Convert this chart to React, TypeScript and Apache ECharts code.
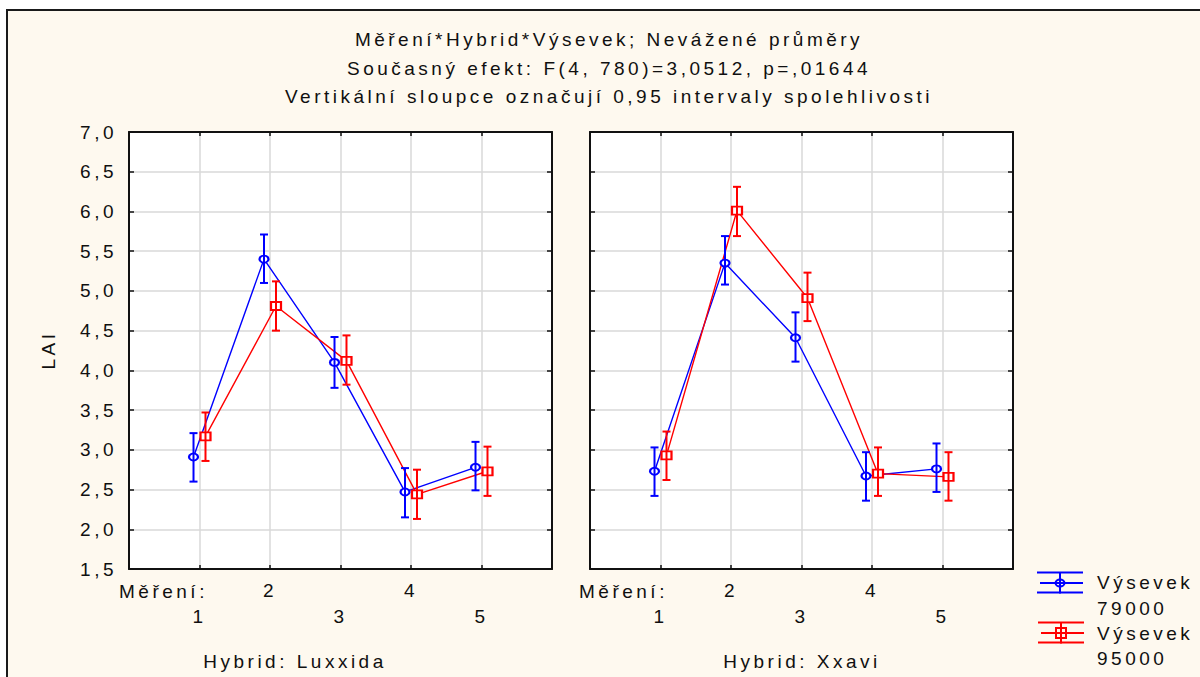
import React, { useEffect, useRef } from "react";
import * as echarts from "echarts";

// ---- data ----
const measurements = [1, 2, 3, 4, 5];

const luxxida79000Mean = [2.91, 5.4, 4.1, 2.47, 2.78];
const luxxida79000Low = [2.6, 5.1, 3.78, 2.15, 2.49];
const luxxida79000High = [3.21, 5.71, 4.42, 2.77, 3.1];

const luxxida95000Mean = [3.17, 4.81, 4.12, 2.44, 2.73];
const luxxida95000Low = [2.86, 4.5, 3.82, 2.13, 2.42];
const luxxida95000High = [3.47, 5.12, 4.44, 2.75, 3.04];

const xxavi79000Mean = [2.73, 5.35, 4.41, 2.67, 2.76];
const xxavi79000Low = [2.42, 5.08, 4.11, 2.36, 2.47];
const xxavi79000High = [3.03, 5.69, 4.73, 2.97, 3.08];

const xxavi95000Mean = [2.93, 6.01, 4.91, 2.7, 2.66];
const xxavi95000Low = [2.62, 5.69, 4.62, 2.42, 2.36];
const xxavi95000High = [3.23, 6.31, 5.23, 3.03, 2.97];

const titleLines = [
  "Měření*Hybrid*Výsevek; Nevážené průměry",
  "Současný efekt: F(4, 780)=3,0512, p=,01644",
  "Vertikální sloupce označují 0,95 intervaly spolehlivosti",
];
const hybridNames = ["Hybrid: Luxxida", "Hybrid: Xxavi"];
const seriesNames = ["Výsevek 79000", "Výsevek 95000"];
const legendLines = [
  ["Výsevek", "79000"],
  ["Výsevek", "95000"],
];
const xAxisTitle = "Měření:";
const yAxisTitle = "LAI";

// ---- styling ----
const FONT = '"Liberation Sans", Arial, sans-serif';
const FS = 19;
const TXT = "#101010";
const BLUE = "#0000ff";
const RED = "#ff0000";
const CREAM = "#fef9ef";
const SHIFT = 0.085;

const points = (means: number[], shift: number) =>
  measurements.map((m, i) => [m + shift, means[i]]);
const bars = (lo: number[], hi: number[], shift: number) =>
  measurements.map((m, i) => [m + shift, lo[i], hi[i]]);

const errorRenderer = (color: string) => (params: any, api: any) => {
  const x = api.value(0);
  const top = api.coord([x, api.value(2)]);
  const bot = api.coord([x, api.value(1)]);
  const hw = 4;
  const style = { stroke: color, lineWidth: 2 };
  return {
    type: "group",
    children: [
      { type: "line", shape: { x1: top[0], y1: top[1], x2: bot[0], y2: bot[1] }, style },
      { type: "line", shape: { x1: top[0] - hw, y1: top[1], x2: top[0] + hw, y2: top[1] }, style },
      { type: "line", shape: { x1: bot[0] - hw, y1: bot[1], x2: bot[0] + hw, y2: bot[1] }, style },
    ],
  };
};

const yFmt = (v: number) => v.toFixed(1).replace(".", ",");
const xFmt = (v: number) => {
  if (v === 2 || v === 4) return String(v);
  if (v === 1 || v === 3 || v === 5) return "\n" + v;
  return "";
};

const axisLineStyle = { show: true, onZero: false, lineStyle: { color: "#111", width: 2 } };
const tickStyle = (len: number) => ({
  show: true,
  inside: true,
  length: len,
  lineStyle: { color: "#111", width: 1.5 },
});
const splitStyle = { show: true, lineStyle: { color: "#d8d8d8", width: 1.5 } };

function bottomX(g: number) {
  return {
    type: "value",
    gridIndex: g,
    position: "bottom",
    min: 0,
    max: 6,
    interval: 1,
    axisLine: axisLineStyle,
    axisTick: tickStyle(4),
    splitLine: splitStyle,
    axisLabel: {
      show: true,
      margin: 8,
      formatter: xFmt,
      fontSize: FS,
      lineHeight: 26,
      color: TXT,
      fontFamily: FONT,
    },
  };
}
function topX(g: number) {
  return {
    type: "value",
    gridIndex: g,
    position: "top",
    min: 0,
    max: 6,
    interval: 1,
    axisLine: axisLineStyle,
    axisTick: tickStyle(4),
    splitLine: { show: false },
    axisLabel: { show: false },
  };
}
function yAx(g: number, pos: string, labels: boolean, split: boolean) {
  return {
    type: "value",
    gridIndex: g,
    position: pos,
    min: 1.5,
    max: 7,
    interval: 0.5,
    axisLine: axisLineStyle,
    axisTick: tickStyle(5),
    splitLine: split ? splitStyle : { show: false },
    axisLabel: labels
      ? { show: true, margin: 12, formatter: yFmt, fontSize: FS, color: TXT, fontFamily: FONT }
      : { show: false },
  };
}

function lineSeries(name: string, g: number, data: number[][], color: string, symbol: string, size: number[]) {
  return {
    type: "line",
    name,
    xAxisIndex: g,
    yAxisIndex: g,
    data,
    symbol,
    symbolSize: size,
    lineStyle: { color, width: 1.4 },
    itemStyle: { color, borderColor: color, borderWidth: 1.6 },
    z: 3,
  };
}
function errSeries(name: string, g: number, data: number[][], color: string) {
  return {
    type: "custom",
    name,
    xAxisIndex: g,
    yAxisIndex: g,
    data,
    renderItem: errorRenderer(color),
    encode: { x: 0, y: [1, 2] },
    z: 4,
  };
}

function legendIcon(cx: number, cy: number, color: string, square: boolean) {
  const s = { stroke: color, lineWidth: 2 };
  const els: any[] = [
    { type: "line", shape: { x1: cx - 23, y1: cy - 10.5, x2: cx + 23, y2: cy - 10.5 }, style: s, z: 10 },
    { type: "line", shape: { x1: cx - 20, y1: cy, x2: cx + 23, y2: cy }, style: s, z: 10 },
    { type: "line", shape: { x1: cx - 23, y1: cy + 9.5, x2: cx + 23, y2: cy + 9.5 }, style: s, z: 10 },
    { type: "line", shape: { x1: cx, y1: cy - 10.5, x2: cx, y2: cy + 10.5 }, style: s, z: 10 },
  ];
  if (square) {
    els.push({ type: "rect", shape: { x: cx - 5, y: cy - 5, width: 10, height: 10 }, style: { stroke: color, fill: "none", lineWidth: 2 }, z: 11 });
  } else {
    els.push({ type: "ellipse", shape: { cx, cy, rx: 4.5, ry: 3.5 }, style: { stroke: color, fill: "none", lineWidth: 2 }, z: 11 });
  }
  return els;
}

const txt = (text: string, x: number, y: number, align: string, extra: any = {}) => ({
  type: "text",
  x,
  y,
  z: 10,
  style: {
    text,
    x: 0,
    y: 0,
    fill: TXT,
    font: `${FS}px ${FONT}`,
    textAlign: align,
    textVerticalAlign: "middle",
    ...extra,
  },
});

export default function App() {
  const ref = useRef<HTMLDivElement>(null);
  useEffect(() => {
    if (!ref.current) return;
    const chart = echarts.init(ref.current, undefined, { renderer: "svg" });
    const option: any = {
      animation: false,
      backgroundColor: "#ffffff",
      title: titleLines.map((t, i) => ({
        text: t,
        left: 609,
        top: 30 + i * 28.5,
        textAlign: "center",
        padding: 0,
        textStyle: { fontSize: FS, fontWeight: "normal", color: TXT, fontFamily: FONT },
      })),
      grid: [
        { left: 129, top: 132, width: 423, height: 437, show: true, backgroundColor: "#ffffff", borderWidth: 0 },
        { left: 590, top: 132, width: 423, height: 437, show: true, backgroundColor: "#ffffff", borderWidth: 0 },
      ],
      xAxis: [bottomX(0), bottomX(1), topX(0), topX(1)],
      yAxis: [yAx(0, "left", true, true), yAx(1, "left", false, true), yAx(0, "right", false, false), yAx(1, "right", false, false)],
      series: [
        lineSeries(seriesNames[0], 0, points(luxxida79000Mean, -SHIFT), BLUE, "emptyCircle", [9, 7]),
        errSeries(seriesNames[0], 0, bars(luxxida79000Low, luxxida79000High, -SHIFT), BLUE),
        lineSeries(seriesNames[1], 0, points(luxxida95000Mean, SHIFT), RED, "emptyRect", [10, 8]),
        errSeries(seriesNames[1], 0, bars(luxxida95000Low, luxxida95000High, SHIFT), RED),
        lineSeries(seriesNames[0], 1, points(xxavi79000Mean, -SHIFT), BLUE, "emptyCircle", [9, 7]),
        errSeries(seriesNames[0], 1, bars(xxavi79000Low, xxavi79000High, -SHIFT), BLUE),
        lineSeries(seriesNames[1], 1, points(xxavi95000Mean, SHIFT), RED, "emptyRect", [10, 8]),
        errSeries(seriesNames[1], 1, bars(xxavi95000Low, xxavi95000High, SHIFT), RED),
      ],
      graphic: [
        {
          type: "rect",
          z: -10,
          shape: { x: 7, y: 10, width: 1300, height: 800 },
          style: { fill: CREAM, stroke: "#1a1a1a", lineWidth: 2 },
        },
        { ...txt(yAxisTitle, 48, 350, "center"), rotation: Math.PI / 2 },
        txt(xAxisTitle, 119, 591, "left"),
        txt(xAxisTitle, 579, 591, "left"),
        txt(hybridNames[0], 295, 661, "center"),
        txt(hybridNames[1], 802, 661, "center"),
        ...legendIcon(1060, 583, BLUE, false),
        ...legendIcon(1061, 633, RED, true),
        txt(legendLines[0][0], 1097, 582, "left"),
        txt(legendLines[0][1], 1097, 608, "left"),
        txt(legendLines[1][0], 1097, 633, "left"),
        txt(legendLines[1][1], 1097, 658, "left"),
      ],
    };
    chart.setOption(option);
    return () => chart.dispose();
  }, []);
  return (
    <>
      <style>{".stat-chart text{letter-spacing:3.5px;}"}</style>
      <div
        ref={ref}
        className="stat-chart"
        style={{ position: "absolute", left: 0, top: 0, width: 1200, height: 677 }}
      />
    </>
  );
}
